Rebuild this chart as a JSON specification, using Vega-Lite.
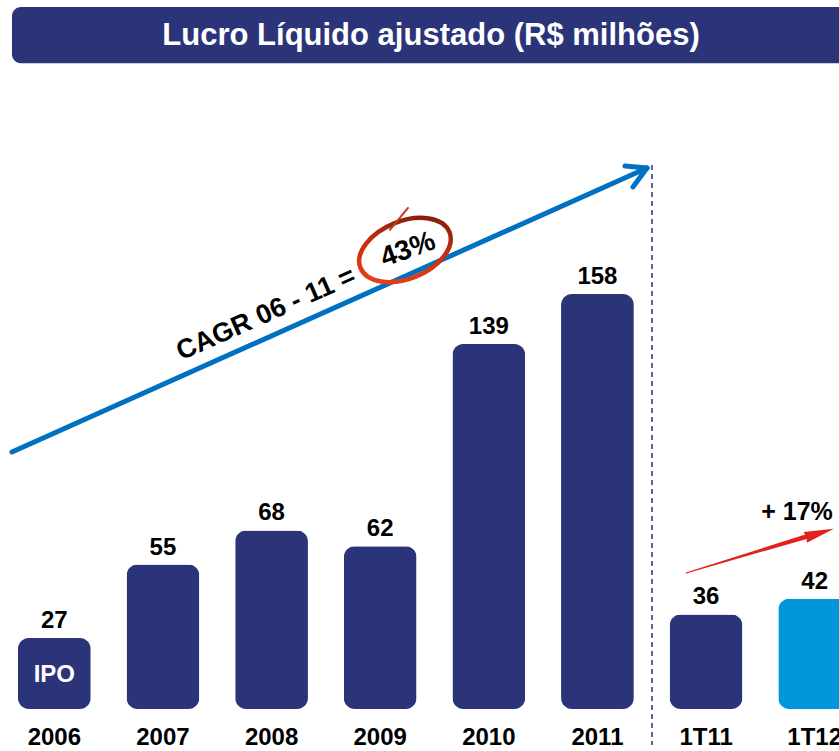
{
  "$schema": "https://vega.github.io/schema/vega-lite/v6.json",
  "width": 869,
  "height": 709,
  "autosize": {"type": "none"},
  "padding": {"left": 0, "top": 0, "right": 0, "bottom": 42},
  "background": "white",
  "config": {"view": {"stroke": null}, "font": "Liberation Sans"},
  "datasets": {
    "bars": [
      {"cat": "2006", "value": 27, "hl": "a"},
      {"cat": "2007", "value": 55, "hl": "a"},
      {"cat": "2008", "value": 68, "hl": "a"},
      {"cat": "2009", "value": 62, "hl": "a"},
      {"cat": "2010", "value": 139, "hl": "a"},
      {"cat": "2011", "value": 158, "hl": "a"},
      {"cat": "1T11", "value": 36, "hl": "a"},
      {"cat": "1T12", "value": 42, "hl": "b"}
    ],
    "arrow": [
      {"x": 0.11, "y": 97.9, "x2": 5.956, "y2": 206.0},
      {"x": 5.754, "y": 206.8, "x2": 5.956, "y2": 206.0},
      {"x": 5.827, "y": 198.8, "x2": 5.956, "y2": 206.0}
    ],
    "redarrow": [
      {"o": 1, "x": 6.315, "y": 51.8, "w": 1},
      {"o": 2, "x": 7.42, "y": 65.6, "w": 4.5}
    ]
  },
  "resolve": {"scale": {"x": "independent"}},
  "layer": [
    {
      "data": {"name": "bars"},
      "encoding": {
        "x": {
          "field": "cat", "type": "nominal", "sort": null,
          "scale": {"paddingInner": 0.33, "paddingOuter": 0.165},
          "axis": {
            "title": null, "domain": false, "ticks": false, "labelAngle": 0,
            "labelFont": "Liberation Sans", "labelFontWeight": "bold",
            "labelFontSize": 24, "labelColor": "#000000", "labelPadding": 16
          }
        },
        "y": {"field": "value", "type": "quantitative", "scale": {"domain": [0, 270], "nice": false}, "axis": null}
      },
      "layer": [
        {
          "mark": {"type": "bar", "cornerRadius": 11},
          "encoding": {
            "color": {"field": "hl", "type": "nominal", "scale": {"domain": ["a", "b"], "range": ["#2B3479", "#0096DB"]}, "legend": null}
          }
        },
        {
          "mark": {"type": "text", "baseline": "alphabetic", "dy": -10, "fontSize": 24, "fontWeight": "bold", "color": "#000000"},
          "encoding": {"text": {"field": "value", "type": "quantitative"}}
        },
        {
          "transform": [{"filter": "datum.cat == '2006'"}],
          "mark": {"type": "text", "baseline": "middle", "fontSize": 24, "fontWeight": "bold", "color": "#ffffff"},
          "encoding": {"y": {"datum": 13}, "text": {"value": "IPO"}}
        }
      ]
    },
    {
      "encoding": {},
      "layer": [
        {
          "data": {"values": [{"x": 0.11, "x2": 8.6, "y": 245.9, "y2": 267.3}]},
          "mark": {"type": "rect", "cornerRadius": 9, "color": "#2B3479"},
          "encoding": {
            "x": {"field": "x", "type": "quantitative", "scale": {"domain": [0, 8], "nice": false, "zero": false}, "axis": null},
            "x2": {"field": "x2"},
            "y": {"field": "y", "type": "quantitative"},
            "y2": {"field": "y2"}
          }
        },
        {
          "data": {"values": [{"x": 3.968, "y": 256.4, "t": "Lucro Líquido ajustado (R$ milhões)"}]},
          "mark": {"type": "text", "align": "center", "baseline": "middle", "fontSize": 31, "fontWeight": "bold", "color": "#ffffff"},
          "encoding": {
            "x": {"field": "x", "type": "quantitative", "axis": null},
            "y": {"field": "y", "type": "quantitative"},
            "text": {"field": "t"}
          }
        },
        {
          "data": {"name": "arrow"},
          "mark": {"type": "rule", "strokeWidth": 5, "strokeCap": "round", "color": "#0070C0"},
          "encoding": {
            "x": {"field": "x", "type": "quantitative", "axis": null},
            "x2": {"field": "x2"},
            "y": {"field": "y", "type": "quantitative"},
            "y2": {"field": "y2"}
          }
        },
        {
          "data": {"values": [{"x": 6.002, "y": 207.2, "y2": -13.7}]},
          "mark": {"type": "rule", "strokeWidth": 1.5, "strokeDash": [5, 4], "color": "#2B3479"},
          "encoding": {
            "x": {"field": "x", "type": "quantitative", "axis": null},
            "y": {"field": "y", "type": "quantitative"},
            "y2": {"field": "y2"}
          }
        },
        {
          "data": {"values": [{"x": 2.449, "y": 150.4, "t": "CAGR 06 - 11 ="}]},
          "mark": {"type": "text", "align": "center", "baseline": "middle", "angle": -24, "fontSize": 27, "fontWeight": "bold", "color": "#000000"},
          "encoding": {
            "x": {"field": "x", "type": "quantitative", "axis": null},
            "y": {"field": "y", "type": "quantitative"},
            "text": {"field": "t"}
          }
        },
        {
          "data": {"values": [{"x": 3.728, "y": 174.8}]},
          "mark": {
            "type": "point", "filled": false, "opacity": 1, "strokeWidth": 4.5,
            "shape": "M-1,0A1,0.6,0,1,1,1,0A1,0.6,0,1,1,-1,0Z",
            "size": 9200, "angle": -22,
            "stroke": {"gradient": "linear", "x1": 0, "y1": 1, "x2": 1, "y2": 0, "stops": [{"offset": 0, "color": "#F0451A"}, {"offset": 0.5, "color": "#C8300F"}, {"offset": 1, "color": "#6E1A08"}]}
          },
          "encoding": {
            "x": {"field": "x", "type": "quantitative", "axis": null},
            "y": {"field": "y", "type": "quantitative"}
          }
        },
        {
          "data": {"values": [{"x": 3.756, "y": 190.8, "x2": 3.59, "y2": 182.5}]},
          "mark": {"type": "rule", "strokeWidth": 2, "strokeCap": "round", "color": "#C0391A"},
          "encoding": {
            "x": {"field": "x", "type": "quantitative", "axis": null},
            "x2": {"field": "x2"},
            "y": {"field": "y", "type": "quantitative"},
            "y2": {"field": "y2"}
          }
        },
        {
          "data": {"values": [{"x": 3.756, "y": 174.8, "t": "43%"}]},
          "mark": {"type": "text", "align": "center", "baseline": "middle", "angle": -20, "fontSize": 28, "fontWeight": "bold", "color": "#000000"},
          "encoding": {
            "x": {"field": "x", "type": "quantitative", "axis": null},
            "y": {"field": "y", "type": "quantitative"},
            "text": {"field": "t"}
          }
        },
        {
          "data": {"name": "redarrow"},
          "mark": {"type": "trail", "color": "#E3211C"},
          "encoding": {
            "x": {"field": "x", "type": "quantitative", "axis": null},
            "y": {"field": "y", "type": "quantitative"},
            "size": {"field": "w", "type": "quantitative", "scale": null},
            "order": {"field": "o"}
          }
        },
        {
          "data": {"values": [{"x": 7.545, "y": 67.0}]},
          "mark": {
            "type": "point", "filled": true, "opacity": 1, "color": "#E3211C",
            "shape": "M1,0L-1,-0.38L-0.9,0L-1,0.38Z", "size": 900, "angle": -16.6
          },
          "encoding": {
            "x": {"field": "x", "type": "quantitative", "axis": null},
            "y": {"field": "y", "type": "quantitative"}
          }
        },
        {
          "data": {"values": [{"x": 7.337, "y": 75.0, "t": "+ 17%"}]},
          "mark": {"type": "text", "align": "center", "baseline": "middle", "fontSize": 25, "fontWeight": "bold", "color": "#000000"},
          "encoding": {
            "x": {"field": "x", "type": "quantitative", "axis": null},
            "y": {"field": "y", "type": "quantitative"},
            "text": {"field": "t"}
          }
        }
      ]
    }
  ]
}
